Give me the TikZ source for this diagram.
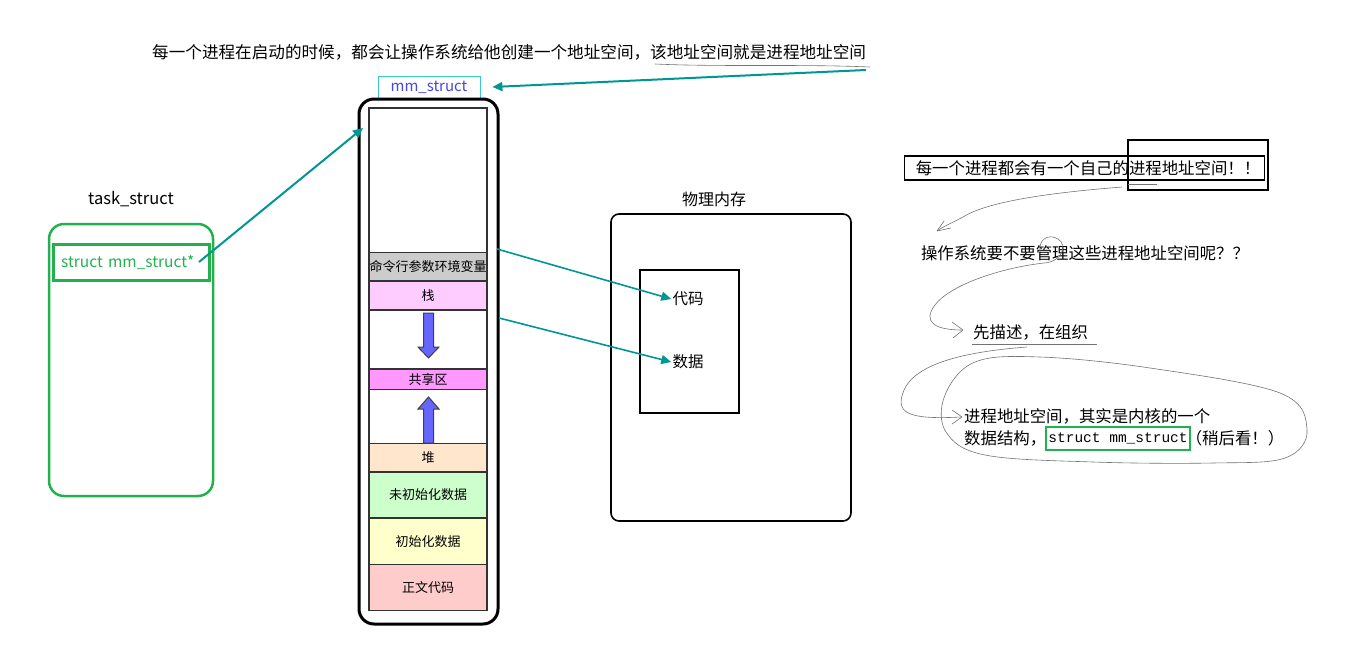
\documentclass[tikz,border=0pt]{standalone}
\usepackage{fontspec}
\setmainfont{Liberation Serif}
\setmonofont{Liberation Mono}
\newfontfamily\cjk{Noto Sans CJK SC}
\usetikzlibrary{arrows.meta,positioning}

\definecolor{linkteal}{RGB}{0,150,148}
\definecolor{taskgreen}{RGB}{34,177,76}
\definecolor{mmcyan}{RGB}{60,200,210}
\definecolor{mmblue}{RGB}{70,70,230}
\definecolor{growblue}{RGB}{102,102,255}

\tikzset{
  seg/.style={draw=black!80, line width=1.5pt, minimum width=118pt, inner sep=0pt,
    font=\cjk\fontsize{13}{13}\selectfont},
  link/.style={draw=linkteal, line width=2pt, -{Triangle[length=10pt,width=9pt]}},
  thinlink/.style={draw=linkteal, line width=1.6pt, -{Triangle[length=10pt,width=9pt]}},
  growarrow/.style={fill=growblue, draw=black!75, line width=1pt},
  scribble/.style={draw=black!55, line width=0.6pt},
  remark/.style={font=\cjk\fontsize{16.4}{16.4}\selectfont, inner sep=1pt},
}

\begin{document}
\begin{tikzpicture}[x=1pt,y=-1pt]
  \useasboundingbox (0,0) rectangle (1358,653);

  % remark on top and the mm_struct it points at
  \node[remark, anchor=west, font=\cjk\fontsize{16.6}{16.6}\selectfont] (intro) at (151,52) {每一个进程在启动的时候，都会让操作系统给他创建一个地址空间，该地址空间就是进程地址空间};
  \draw[scribble] (655,64) .. controls (720,67) and (800,64) .. (870,67);
  \coordinate (introend) at (866,70);

  \node[draw=mmcyan, line width=0.8pt, text=mmblue, font=\cjk\fontsize{15}{15}\selectfont,
    minimum width=102pt, minimum height=22pt, inner sep=0pt] (mm) at (429,87) {mm\_struct};
  \draw[link] (introend) -- ([xshift=12pt]mm.east);

  % process address space
  \node[draw, line width=3pt, rounded corners=15pt, minimum width=139pt, minimum height=525pt] (space) at (428.5,361.5) {};

  \node[seg, minimum height=144.5pt] (free) at (428,180.25) {};
  \node[seg, fill=black!20, minimum height=28.5pt] (args) at (428,266.75) {命令行参数环境变量};
  \node[seg, fill={rgb,255:red,255;green,204;blue,255}, minimum height=29pt] (stack) at (428,295.5) {栈};
  \node[seg, minimum height=59pt] (gapa) at (428,339.5) {};
  \node[seg, fill={rgb,255:red,255;green,153;blue,255}, minimum height=20.5pt] (shm) at (428,379.25) {共享区};
  \node[seg, minimum height=54pt] (gapb) at (428,416.5) {};
  \node[seg, fill={rgb,255:red,255;green,230;blue,204}, minimum height=28.5pt] (heap) at (428,457.75) {堆};
  \node[seg, fill={rgb,255:red,204;green,255;blue,204}, minimum height=46pt] (bss) at (428,495) {未初始化数据};
  \node[seg, fill={rgb,255:red,255;green,255;blue,204}, minimum height=46.5pt] (data) at (428,541.25) {初始化数据};
  \node[seg, fill={rgb,255:red,255;green,204;blue,204}, minimum height=46pt] (text) at (428,587.5) {正文代码};

  % stack grows down, heap grows up
  \filldraw[growarrow] (423.5,313) -- (433.5,313) -- (433.5,347) -- (439,347) -- (428.5,358)
    -- (418,347) -- (423.5,347) -- cycle;
  \filldraw[growarrow] (428.5,397) -- (439,409) -- (433.5,409) -- (433.5,443) -- (423.5,443)
    -- (423.5,409) -- (418,409) -- cycle;

  % task_struct
  \node[font=\cjk\fontsize{16.5}{16.5}\selectfont] (tasklabel) at (131,199) {task\_struct};
  \node[draw=taskgreen, line width=2.5pt, rounded corners=15pt, minimum width=164pt, minimum height=272pt] (task) at (131,360) {};
  \node[draw=taskgreen, line width=3pt, minimum width=156pt, minimum height=36pt, text=taskgreen,
    font=\cjk\fontsize{15.5}{15.5}\selectfont, text width=150pt, align=left, inner xsep=3pt] (ptr) at (131,262) {~struct mm\_struct*};
  \coordinate (ptrend) at (199,262);
  \coordinate (spacetop) at (363,128);
  \draw[link] (ptrend) -- (spacetop);

  % physical memory
  \node[font=\cjk\fontsize{16}{16}\selectfont] (physlabel) at (714,199) {物理内存};
  \node[draw, line width=1.6pt, rounded corners=8pt, minimum width=240pt, minimum height=307pt] (phys) at (731,367.5) {};
  \node[draw, line width=1.6pt, minimum width=99pt, minimum height=143pt] (frame) at (689.5,341.5) {};
  \node[font=\cjk\fontsize{15.5}{15.5}\selectfont, inner sep=1pt] (code) at (688,299) {代码};
  \node[font=\cjk\fontsize{15.5}{15.5}\selectfont, inner sep=1pt] (datum) at (688,362) {数据};
  \coordinate (argsout) at (497,249);
  \coordinate (stackout) at (499,318);
  \draw[thinlink] (argsout) -- (code.west);
  \draw[thinlink] (stackout) -- (datum.west);

  % notes on the right
  \node[draw, line width=1.6pt, minimum width=360pt, minimum height=24pt] (claimbox) at (1084.5,168) {};
  \node[remark] (claim) at (1088,168) {每一个进程都会有一个自己的进程地址空间！！};
  \node[draw, line width=1.6pt, minimum width=140pt, minimum height=50pt] (focus) at (1198,165) {};
  \node[remark] (question) at (1085,253) {操作系统要不要管理这些进程地址空间呢？？};
  \node[remark, anchor=west] (answer) at (972,332) {先描述，在组织};
  \draw[scribble] (972,344) -- (1097,344);
  \node[remark, anchor=west] (kernela) at (963,416) {进程地址空间，其实是内核的一个};
  \node[remark, anchor=west] (kernelb) at (963,438) {数据结构，};
  \node[draw=taskgreen, line width=2pt, font=\ttfamily\fontsize{14.5}{14.5}\selectfont, inner sep=2pt,
    minimum height=23pt, right=-2pt of kernelb] (mmcode) {struct mm\_struct};
  \node[remark, right=-6pt of mmcode] (later) {（稍后看！）};

  % hand drawn connectors
  \draw[scribble] (1128,184) -- (1157,184);
  \draw[scribble] (1122,187) .. controls (1060,192) and (990,200) .. (963,217)
    .. controls (950,224) and (942,227) .. (937,231);
  \draw[scribble] (937,231) -- (944,221) (937,231) -- (951,228);
  \draw[scribble] (1044,263) .. controls (1062,262) and (1068,245) .. (1058,239)
    .. controls (1048,233) and (1038,240) .. (1040,252);
  \draw[scribble] (1044,263) .. controls (1000,268) and (950,285) .. (935,305)
    .. controls (922,322) and (935,330) .. (962,330);
  \draw[scribble] (963,330) -- (952,322) (963,330) -- (953,338);
  \draw[scribble] (1027,347) .. controls (960,352) and (915,365) .. (904,390)
    .. controls (895,412) and (905,420) .. (961,417);
  \draw[scribble] (962,417) -- (952,410) (962,417) -- (952,424);
  \draw[scribble] plot[smooth cycle, tension=0.6] coordinates {(945,395) (975,362) (1040,357) (1150,368)
    (1280,393) (1307,430) (1285,458) (1213,463) (1093,462) (985,455) (946,432)};
\end{tikzpicture}
\end{document}
